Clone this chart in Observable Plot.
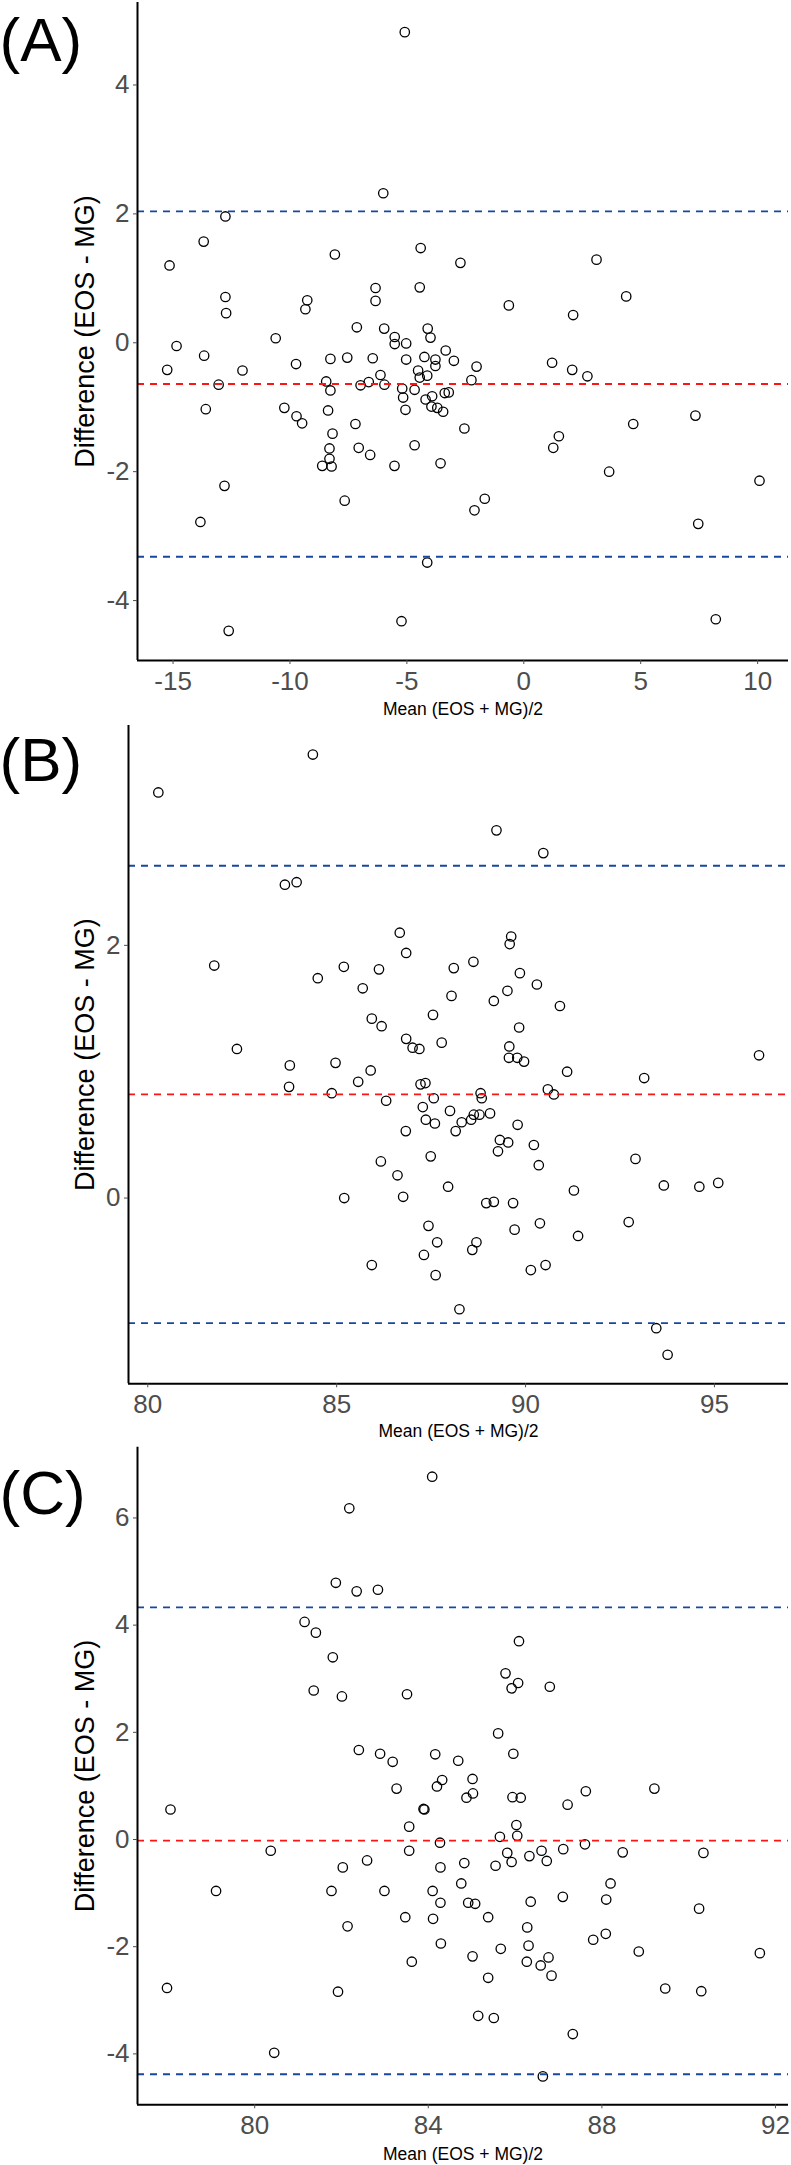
<!DOCTYPE html>
<html>
<head>
<meta charset="utf-8">
<script src="https://cdn.jsdelivr.net/npm/d3@7"></script>
<script src="https://cdn.jsdelivr.net/npm/@observablehq/plot@0.6"></script>
<style>
  body { margin: 0; background: #fff; }
  #chart svg { display: block; }
</style>
</head>
<body>
<div id="chart"></div>
<script>
// ---- Data: [mean (EOS+MG)/2, difference (EOS - MG)] ----
const pointsA = [
  [-5.09,4.82],[-6.01,2.32],[-12.76,1.96],[-13.69,1.57],[-15.15,1.20],[-8.08,1.37],[-4.41,1.47],[-2.71,1.24],
  [-12.76,0.71],[-12.73,0.46],[-9.26,0.66],[-9.34,0.52],[-6.34,0.85],[-6.34,0.65],[-4.45,0.86],[-7.14,0.24],
  [-10.61,0.07],[-14.85,-0.05],[-5.97,0.22],[-5.52,0.09],[-5.52,-0.02],[-5.03,-0.01],[-4.11,0.22],[-3.99,0.08],
  [-3.34,-0.12],[-2.99,-0.28],[-13.67,-0.20],[-15.25,-0.42],[-12.03,-0.43],[-9.74,-0.33],[-8.27,-0.25],[-7.55,-0.23],
  [-6.46,-0.24],[-5.03,-0.26],[-4.25,-0.22],[-3.78,-0.26],[-3.78,-0.36],[-4.52,-0.43],
  [3.11,1.29],[-0.64,0.58],[4.38,0.72],[2.11,0.43],[-2.02,-0.37],[1.21,-0.31],[2.07,-0.42],[2.72,-0.52],
  [-13.05,-0.65],[-13.6,-1.03],[-10.24,-1.01],[-9.72,-1.14],[-9.48,-1.25],[-8.45,-0.60],[-8.27,-0.74],[-8.37,-1.05],
  [-8.18,-1.41],[-8.31,-1.64],[-8.31,-1.80],[-8.62,-1.91],[-8.22,-1.92],[-7.20,-1.26],[-7.06,-1.63],[-6.57,-1.74],
  [-7.66,-2.45],[-12.80,-2.22],[-13.83,-2.78],[-12.62,-4.47],[-5.23,-4.32],[-4.13,-3.41],[-6.98,-0.66],[-6.63,-0.61],
  [-6.13,-0.50],[-5.96,-0.65],[-5.20,-0.71],[-5.16,-0.85],[-5.06,-1.04],[-4.67,-0.73],[-4.45,-0.54],[-4.13,-0.51],
  [-4.20,-0.88],[-3.92,-0.83],[-3.95,-0.99],[-3.70,-1.01],[-3.45,-1.07],[-3.38,-0.78],[-3.21,-0.77],[-4.67,-1.59],
  [-5.53,-1.91],[-3.56,-1.87],[-2.54,-1.33],
  [-2.24,-0.58],[7.34,-1.13],[4.68,-1.26],[1.50,-1.45],[1.26,-1.63],[3.65,-2.00],[10.08,-2.14],[-1.67,-2.42],
  [-2.11,-2.60],[7.46,-2.81],[8.21,-4.29]
];
const pointsB = [
  [84.37,3.51],[80.28,3.21],[83.63,2.48],[83.94,2.50],[86.67,2.10],[86.84,1.94],[81.76,1.84],[84.50,1.74],
  [85.19,1.83],[86.12,1.81],[85.69,1.66],[88.10,1.82],[88.04,1.60],[87.55,1.45],[85.93,1.42],[86.19,1.36],
  [86.84,1.26],[87.01,1.19],[87.19,1.18],[87.78,1.23],[82.36,1.18],[83.76,1.05],[84.97,1.07],[85.90,1.01],
  [89.23,2.91],[90.47,2.73],[89.62,2.07],[89.58,2.01],[88.62,1.87],[89.85,1.78],[90.30,1.69],[89.52,1.64],
  [89.16,1.56],[90.91,1.52],[89.83,1.35],[89.57,1.20],[89.56,1.11],[89.78,1.11],[89.96,1.08],[91.10,1.00],
  [93.14,0.95],[96.18,1.13],
  [83.74,0.88],[84.87,0.83],[85.57,0.92],[87.22,0.90],[87.35,0.91],[86.31,0.77],[87.57,0.79],[87.28,0.72],
  [87.36,0.62],[87.60,0.59],[88.00,0.69],[88.15,0.53],[86.83,0.53],[87.49,0.33],[86.17,0.29],[86.61,0.18],
  [87.95,0.09],[85.20,0.00],[86.76,0.01],[87.43,-0.22],[87.66,-0.35],[87.31,-0.45],[85.93,-0.53],[87.62,-0.61],
  [90.59,0.86],[90.75,0.82],[88.81,0.83],[88.84,0.79],[88.31,0.60],[88.56,0.62],[88.63,0.66],[88.78,0.66],
  [89.06,0.67],[89.79,0.58],[89.32,0.46],[89.54,0.44],[89.27,0.37],[90.22,0.42],[90.35,0.26],[92.91,0.31],
  [91.28,0.06],[93.66,0.10],[94.60,0.09],[95.10,0.12],[88.96,-0.04],[89.16,-0.03],[89.67,-0.04],[89.71,-0.25],
  [90.38,-0.20],[92.73,-0.19],[91.39,-0.30],[88.70,-0.35],[88.59,-0.41],[90.14,-0.57],[90.53,-0.53],[88.25,-0.88],
  [93.46,-1.03],[93.76,-1.24]
];
const pointsC = [
  [84.09,6.77],[82.18,6.18],[81.87,4.79],[82.35,4.63],[82.84,4.66],[81.15,4.06],[81.41,3.86],[81.80,3.40],
  [81.36,2.78],[82.01,2.67],[83.51,2.71],[82.40,1.67],[82.89,1.60],[83.18,1.45],[84.16,1.59],[84.69,1.47],
  [84.32,1.11],[84.20,0.99],[83.27,0.95],
  [86.09,3.70],[85.78,3.10],[86.07,2.92],[85.92,2.82],[86.80,2.85],[85.61,1.98],[85.96,1.60],[85.02,1.13],
  [85.03,0.86],[84.88,0.78],[85.94,0.79],[86.13,0.78],[87.63,0.90],[89.21,0.95],[87.21,0.65],
  [78.06,0.56],[83.89,0.57],[83.91,0.56],[83.56,0.24],[84.27,-0.06],[80.37,-0.21],[83.56,-0.21],[82.59,-0.39],
  [82.03,-0.52],[84.28,-0.52],[79.11,-0.96],[81.77,-0.96],[82.99,-0.96],[84.10,-0.96],[84.28,-1.18],[83.47,-1.45],
  [84.11,-1.48],[82.14,-1.62],[84.29,-1.94],[83.62,-2.28],[77.98,-2.77],[81.92,-2.84],[80.45,-3.98],
  [86.03,0.27],[86.05,0.07],[85.65,0.05],[85.82,-0.25],[85.92,-0.42],[86.33,-0.31],[86.61,-0.21],[86.73,-0.40],
  [87.11,-0.18],[87.61,-0.09],[88.48,-0.24],[90.34,-0.25],[84.83,-0.44],[85.55,-0.49],[84.76,-0.82],[88.20,-0.82],
  [84.92,-1.18],[85.08,-1.20],[86.36,-1.16],[87.10,-1.07],[88.10,-1.12],[90.24,-1.29],[85.38,-1.45],[86.28,-1.64],
  [87.80,-1.87],[88.09,-1.76],[85.67,-2.04],[86.31,-1.98],[85.02,-2.18],[86.27,-2.28],[86.77,-2.20],[86.59,-2.35],
  [86.84,-2.54],[85.38,-2.58],[88.85,-2.09],[91.64,-2.12],[89.46,-2.78],[90.29,-2.83],[85.15,-3.29],[85.51,-3.33],
  [87.33,-3.63],[86.64,-4.42]
];

// bias (mean difference) and limits of agreement
const biasA = -0.64, limitsA = [2.04, -3.32];
const biasB = 0.82,  limitsB = [2.63, -0.99];
const biasC = -0.02, limitsC = [4.33, -4.38];

// tick values
const xTicksA = [-15, -10, -5, 0, 5, 10], yTicksA = [-4, -2, 0, 2, 4];
const xTicksB = [80, 85, 90, 95],         yTicksB = [0, 2];
const xTicksC = [80, 84, 88, 92],         yTicksC = [-4, -2, 0, 2, 4, 6];

const panelLabels = ["(A)", "(B)", "(C)"];
const yTitle = "Difference (EOS - MG)";
const xTitle = "Mean (EOS + MG)/2";

function panel(cfg) {
  const {label, pts, xDomain, yDomain, xTicks, yTicks, bias, limits,
         height, mt, mb, ml, mr, labelBaseline, xTitleDy} = cfg;
  return Plot.plot({
    width: 791,
    height,
    marginTop: mt, marginBottom: mb, marginLeft: ml, marginRight: mr,
    x: {domain: xDomain},
    y: {domain: yDomain},
    style: {fontFamily: "'Liberation Sans', Arial, Helvetica, sans-serif", background: "white", overflow: "visible"},
    marks: [
      Plot.dot(pts, {x: d => d[0], y: d => d[1], r: 4.7, stroke: "black", strokeWidth: 1.3, fill: "none"}),
      Plot.ruleY(limits, {stroke: "#17479e", strokeWidth: 1.8, strokeDasharray: "7,6"}),
      Plot.ruleY([bias], {stroke: "#ff1414", strokeWidth: 1.8, strokeDasharray: "7,6"}),
      Plot.ruleX([xDomain[0]], {stroke: "black", strokeWidth: 2}),
      Plot.ruleY([yDomain[0]], {stroke: "black", strokeWidth: 2}),
      Plot.axisX({ticks: xTicks, tickFormat: d => String(d), tickSize: 4, tickPadding: 7, fontSize: 26, color: "#4d4d4d", label: null}),
      Plot.axisY({ticks: yTicks, tickFormat: d => String(d), tickSize: 4, tickPadding: 4, fontSize: 26, color: "#4d4d4d", label: null}),
      Plot.text([yTitle], {text: d => d, frameAnchor: "left", textAnchor: "middle", rotate: -90, dx: 85 - ml, fontSize: 27, fill: "black"}),
      Plot.text([xTitle], {text: d => d, frameAnchor: "bottom", textAnchor: "middle", dy: xTitleDy, lineAnchor: "bottom", fontSize: 17.5, fill: "black"}),
      Plot.text([label], {text: d => d, frameAnchor: "top-left", textAnchor: "start", lineAnchor: "bottom",
                          dx: -ml - 1, dy: labelBaseline - mt, fontSize: 62, fill: "black"})
    ]
  });
}

const root = document.getElementById("chart");
root.append(panel({label: panelLabels[0], pts: pointsA, xDomain: [-16.52, 11.32], yDomain: [-4.93, 5.28],
  xTicks: xTicksA, yTicks: yTicksA, bias: biasA, limits: limitsA,
  height: 720, mt: 2, mb: 60, ml: 137, mr: 3, labelBaseline: 60, xTitleDy: 54}));
root.append(panel({label: panelLabels[1], pts: pointsB, xDomain: [79.49, 96.96], yDomain: [-1.47, 3.74],
  xTicks: xTicksB, yTicks: yTicksB, bias: biasB, limits: limitsB,
  height: 720, mt: 5, mb: 56.7, ml: 128, mr: 3, labelBaseline: 60, xTitleDy: 53}));
root.append(panel({label: panelLabels[2], pts: pointsC, xDomain: [77.30, 92.30], yDomain: [-4.95, 7.32],
  xTicks: xTicksC, yTicks: yTicksC, bias: biasC, limits: limitsC,
  height: 725, mt: 6.7, mb: 60.7, ml: 137, mr: 3, labelBaseline: 73, xTitleDy: 55}));
</script>
</body>
</html>
